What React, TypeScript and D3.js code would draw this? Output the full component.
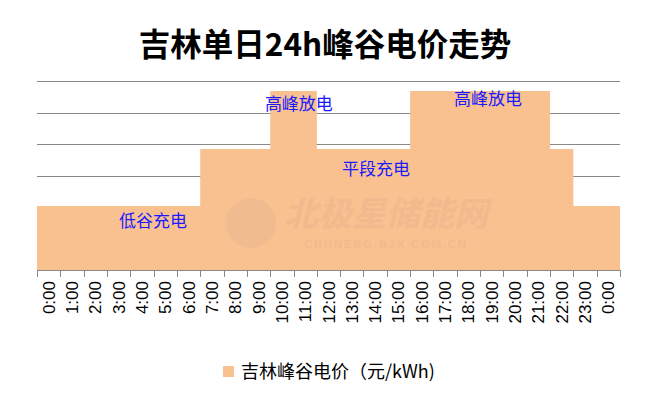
import React from 'react';
import * as d3 from 'd3';

// 吉林单日24h峰谷电价 (元/kWh)
const hours = [
  '0:00', '1:00', '2:00', '3:00', '4:00', '5:00', '6:00', '7:00', '8:00', '9:00',
  '10:00', '11:00', '12:00', '13:00', '14:00', '15:00', '16:00', '17:00', '18:00',
  '19:00', '20:00', '21:00', '22:00', '23:00', '0:00 ',
];
const prices = [
  0.406, 0.406, 0.406, 0.406, 0.406, 0.406, 0.406,
  0.768, 0.768, 0.768,
  1.136, 1.136,
  0.768, 0.768, 0.768, 0.768,
  1.136, 1.136, 1.136, 1.136, 1.136, 1.136,
  0.768,
  0.406, 0.406,
];
const yTicks = [0, 0.2, 0.4, 0.6, 0.8, 1.0, 1.2];
const periodLabels = ['低谷充电', '高峰放电', '平段充电', '高峰放电'];
// label anchors, in hour-band units from the left edge, and in price units
const labelPos = [4.97, 11.23, 14.54, 19.34];
const labelValue = [0.305, 1.048, 0.635, 1.079];

const W = 658;
const H = 397;
const margin = { left: 37, right: 38, top: 81, bottom: 127 };

const App = () => {
  const x = d3.scaleBand().domain(hours).range([margin.left, W - margin.right]).padding(0);
  const y = d3.scaleLinear().domain([0, 1.2]).range([H - margin.bottom, margin.top]);
  const bw = x.bandwidth();
  const xi = d3.scaleLinear().domain([0, hours.length]).range([margin.left, W - margin.right]);
  const cjk = '"Noto Sans CJK SC", "Noto Sans", sans-serif';

  // step outline of the price area
  const pts: [number, number][] = [];
  hours.forEach((h, i) => {
    const x0 = x(h)!;
    pts.push([x0, y(prices[i])], [x0 + bw, y(prices[i])]);
  });
  const area = d3.area<[number, number]>()
    .x(d => d[0])
    .y0(y(0))
    .y1(d => d[1]);

  const boundaries = hours.map(h => x(h)!).concat([x(hours[hours.length - 1])! + bw]);

  return (
    <svg width={W} height={H} style={{ position: 'absolute', left: 0, top: 0, background: '#fff' }}>
      <text x={W / 2 - 4} y={56} textAnchor="middle" fontFamily={cjk} fontWeight="bold" fontSize={31.5} fill="#000">
        吉林单日24h峰谷电价走势
      </text>

      {yTicks.map(t => (
        <line key={t} x1={margin.left} x2={W - margin.right} y1={Math.round(y(t)) + 0.5} y2={Math.round(y(t)) + 0.5}
          stroke="#888" strokeWidth={1} />
      ))}

      <path d={area(pts) || ''} fill="#F8C18F" />

      {/* watermark */}
      <g opacity={0.55}>
        <circle cx={251} cy={223} r={25} fill="#E2B08E" opacity={0.6} />
        <text x={386} y={226} textAnchor="middle" fontFamily={cjk} fontWeight="bold" fontStyle="italic"
          fontSize={34} fill="#E2B08E" opacity={0.6}>北极星储能网</text>
        <text x={386} y={248} textAnchor="middle" fontFamily='"Liberation Sans", Arial, sans-serif'
          fontWeight="bold" fontSize={11} letterSpacing={2} fill="#E2B08E" opacity={0.6}>CHUNENG.BJX.COM.CN</text>
      </g>

      {periodLabels.map((lbl, i) => (
        <text key={i} x={xi(labelPos[i])} y={y(labelValue[i])} textAnchor="middle" dominantBaseline="middle"
          fontFamily={cjk} fontSize={17} fill="#1A1AFF">{lbl}</text>
      ))}

      <line x1={margin.left} x2={W - margin.right} y1={y(0) + 0.5} y2={y(0) + 0.5} stroke="#888" />
      {boundaries.map((b, i) => (
        <line key={i} x1={Math.round(b) + 0.5} x2={Math.round(b) + 0.5} y1={y(0)} y2={y(0) + 7} stroke="#888" />
      ))}
      {hours.map(h => {
        const cx = x(h)! + bw / 2 + 6;
        const cy = y(0) + 11;
        return (
          <text key={h} transform={`translate(${cx},${cy}) rotate(-90)`} textAnchor="end"
            fontFamily='"Liberation Sans", Arial, sans-serif' fontSize={17} fill="#000">{h.trim()}</text>
        );
      })}

      <rect x={223} y={366} width={11} height={11} fill="#F8C18F" />
      <text x={241} y={378} fontFamily={cjk} fontSize={18} fill="#000">吉林峰谷电价（元/kWh)</text>
    </svg>
  );
};

export default App;
